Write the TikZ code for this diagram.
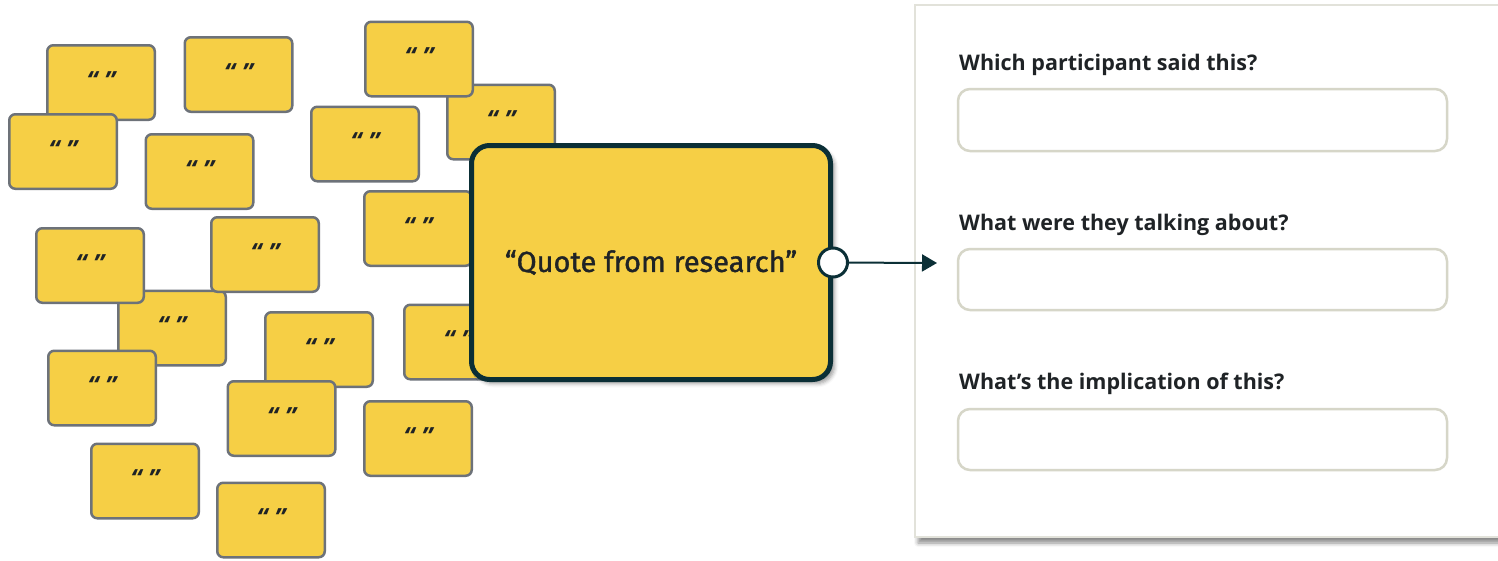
\documentclass[tikz,border=0pt]{standalone}
\usepackage{fontspec}
\setmainfont{Open Sans}
\newfontfamily\quotefont{Fira Sans}[FakeBold=1.3]
\usetikzlibrary{arrows.meta,shadows.blur}

\definecolor{stickyfill}{HTML}{F6CF45}
\definecolor{stickyline}{HTML}{6D7279}
\definecolor{darkteal}{HTML}{0B2F36}
\definecolor{panelline}{HTML}{E2E2DA}
\definecolor{fieldline}{HTML}{D6D6C8}
\definecolor{inktext}{HTML}{1F2326}

\newcommand{\qmarks}{“\hspace{7pt}”}

\tikzset{
  sticky/.style={draw=stickyline, fill=stickyfill, line width=2.5pt,
    rounded corners=6pt, minimum width=107.5pt, minimum height=74.5pt,
    inner sep=0pt, text height=17pt, text depth=4pt,
    font=\fontsize{25}{25}\selectfont\bfseries\itshape, text=inktext},
  quotebox/.style={draw=darkteal, fill=stickyfill, line width=5pt,
    rounded corners=18pt, minimum width=359pt, minimum height=234pt,
    inner sep=0pt, font=\quotefont\fontsize{29}{29}\selectfont, text=inktext,
    blur shadow={shadow xshift=4pt, shadow yshift=-4pt, shadow opacity=40,
      shadow blur radius=4pt}},
  port/.style={circle, draw=darkteal, fill=white, line width=3pt,
    minimum size=29pt, inner sep=0pt},
  link/.style={draw=darkteal, line width=2pt,
    -{Triangle[length=15pt,width=17pt]}},
  panel/.style={draw=panelline, fill=white, line width=2pt,
    blur shadow={shadow xshift=3pt, shadow yshift=-6pt, shadow opacity=45,
      shadow blur radius=4pt}},
  field/.style={draw=fieldline, fill=white, line width=2.5pt,
    rounded corners=12pt},
  question/.style={anchor=base west, inner sep=0pt, text=inktext,
    font=\fontsize{21.5}{21.5}\selectfont\bfseries},
}

\begin{document}
\begin{tikzpicture}[x=1pt,y=-1pt]
\useasboundingbox (0,0) rectangle (1498,560);

% scattered quote notes, back to front
\node[sticky] (nA) at (101,82.5)   {\qmarks};
\node[sticky] (nC) at (63,151.5)   {\qmarks};
\node[sticky] (nB) at (238.5,74.5) {\qmarks};
\node[sticky] (nD) at (199.5,171.5){\qmarks};
\node[sticky] (nE) at (365,144)    {\qmarks};
\node[sticky] (nG) at (501,122)    {\qmarks};
\node[sticky] (nF) at (419,59)     {\qmarks};
\node[sticky] (nH) at (418,228.5)  {\qmarks};
\node[sticky] (nK) at (172,328)    {\qmarks};
\node[sticky] (nI) at (90,265.5)   {\qmarks};
\node[sticky] (nJ) at (265,254.5)  {\qmarks};
\node[sticky] (nL) at (102,388)    {\qmarks};
\node[sticky] (nM) at (319,349.5)  {\qmarks};
\node[sticky] (nO) at (281.5,418.5){\qmarks};
\node[sticky] (nN) at (458,342)    {\qmarks};
\node[sticky] (nP) at (418,438.5)  {\qmarks};
\node[sticky] (nQ) at (145,481)    {\qmarks};
\node[sticky] (nR) at (271,520)    {\qmarks};

% highlighted quote
\node[quotebox] (quote) at (651,262.5) {“Quote from research”};
\node[port] (out) at (quote.east) {};

% question form
\path[panel] (915,5) rectangle (1512,537);
\coordinate (formin) at (937,263);
\draw[link] (out) -- (formin);

\node[question] (q1) at (959,70.5) {Which participant said this?};
\path[field] (958,89) rectangle (1447,151);
\node[question] (q2) at (959,230.5) {What were they talking about?};
\path[field] (958,249) rectangle (1447,310);
\node[question] (q3) at (959,389.5) {What’s the implication of this?};
\path[field] (958,409) rectangle (1447,470);
\end{tikzpicture}
\end{document}
